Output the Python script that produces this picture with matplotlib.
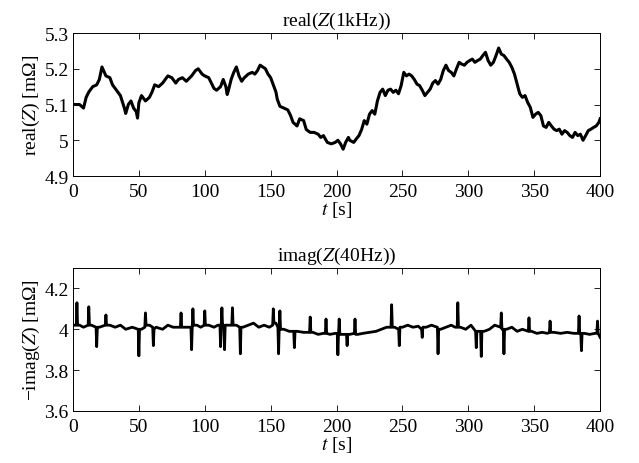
import matplotlib
matplotlib.use("Agg")
import matplotlib.pyplot as plt

# real(Z(1kHz)) centre line
t_real = [0, 5, 8, 10, 12, 15, 18, 20, 22, 25, 28, 30, 33, 36, 39, 40, 42, 44, 46, 48,
          49, 50, 52, 55, 58, 60, 62, 65, 68, 70, 72, 75, 78, 80, 83, 86, 90, 93, 95, 98,
          100, 103, 105, 107, 109, 112, 114, 116, 117, 118, 120, 122, 124, 126, 128, 130, 133, 136, 138, 140,
          142, 144, 146, 148, 150, 152, 154, 155, 157, 160, 163, 165, 167, 170, 172, 175, 177, 180, 183, 186,
          188, 190, 193, 196, 199, 201, 203, 205, 207, 209, 210, 213, 215, 217, 219, 221, 223, 225, 227, 229,
          231, 233, 235, 237, 239, 241, 243, 245, 247, 249, 251, 253, 255, 257, 259, 261, 263, 265, 267, 269,
          271, 273, 275, 277, 279, 281, 283, 285, 287, 289, 291, 293, 295, 297, 299, 301, 303, 305, 307, 309,
          311, 313, 315, 317, 319, 321, 323, 325, 327, 329, 331, 333, 335, 337, 339, 341, 343, 345, 347, 349,
          351, 353, 355, 357, 359, 361, 363, 365, 367, 369, 371, 373, 375, 377, 379, 381, 383, 385, 387, 389,
          391, 393, 395, 397, 399, 400]
real_z = [5.100, 5.100, 5.090, 5.120, 5.135, 5.150, 5.155, 5.170, 5.205, 5.180, 5.175, 5.155, 5.140, 5.125, 5.090, 5.075, 5.100, 5.110, 5.090, 5.080,
          5.062, 5.105, 5.125, 5.110, 5.120, 5.135, 5.155, 5.150, 5.160, 5.170, 5.180, 5.175, 5.160, 5.170, 5.175, 5.165, 5.180, 5.195, 5.200, 5.185,
          5.180, 5.175, 5.160, 5.145, 5.140, 5.150, 5.170, 5.150, 5.128, 5.140, 5.170, 5.190, 5.205, 5.180, 5.165, 5.175, 5.185, 5.190, 5.185, 5.195,
          5.210, 5.205, 5.200, 5.185, 5.175, 5.155, 5.135, 5.115, 5.095, 5.090, 5.085, 5.070, 5.050, 5.040, 5.060, 5.055, 5.030, 5.022, 5.022, 5.017,
          5.008, 5.013, 4.994, 4.990, 4.994, 5.000, 4.990, 4.975, 4.995, 5.008, 5.000, 4.994, 5.004, 5.013, 5.030, 5.055, 5.045, 5.073, 5.083, 5.073,
          5.110, 5.134, 5.143, 5.125, 5.140, 5.143, 5.134, 5.140, 5.130, 5.153, 5.190, 5.180, 5.185, 5.180, 5.170, 5.157, 5.153, 5.140, 5.125, 5.134,
          5.143, 5.160, 5.167, 5.157, 5.170, 5.195, 5.210, 5.195, 5.190, 5.180, 5.200, 5.218, 5.213, 5.210, 5.218, 5.223, 5.227, 5.218, 5.223, 5.227,
          5.237, 5.246, 5.223, 5.210, 5.218, 5.237, 5.258, 5.241, 5.237, 5.227, 5.218, 5.204, 5.185, 5.157, 5.130, 5.120, 5.125, 5.106, 5.092, 5.064,
          5.073, 5.078, 5.069, 5.040, 5.036, 5.050, 5.040, 5.031, 5.027, 5.031, 5.017, 5.027, 5.022, 5.013, 5.008, 5.022, 5.013, 5.017, 5.000, 5.013,
          5.027, 5.031, 5.036, 5.040, 5.050, 5.060]

# -imag(Z(40Hz)), single-sample spikes with the level either side
t_imag = [0, 2.5, 3, 3.5, 5, 8, 11.5, 12, 12.5, 14, 17.5, 18, 18.5, 20, 24.5, 25, 25.5, 28, 32, 36,
          40, 45, 49.5, 50, 50.5, 52, 54.5, 55, 55.5, 58, 60.5, 61, 61.5, 63, 68, 72, 76, 81.5, 82, 82.5,
          85, 89.5, 90, 90.5, 91, 91.5, 94, 97, 99.5, 100, 100.5, 103, 107, 110, 111.5, 112, 112.5, 113, 113.5, 114.5,
          115, 115.5, 117, 120.5, 121, 121.5, 124, 126.5, 127, 127.5, 129, 133, 137, 141, 145, 149, 151.5, 152, 152.5, 154,
          155.5, 156, 156.5, 157, 157.5, 160, 164, 167.5, 168, 168.5, 170, 175, 179.5, 180, 180.5, 182, 186, 190, 191.5, 192,
          192.5, 195, 199, 200.5, 201, 201.5, 202, 202.5, 205, 207.5, 208, 208.5, 210, 213.5, 214, 214.5, 216, 220, 225, 230,
          234, 238, 241.3, 241.8, 242.3, 244, 247.1, 247.6, 248.1, 250, 254, 258, 262, 264.5, 265, 265.5, 268, 272, 276.5, 277,
          277.5, 279, 283, 287, 290, 291.5, 292, 292.5, 294, 298, 302, 305.5, 306, 306.5, 308, 309.3, 309.8, 310.3, 312, 316,
          320, 324.5, 325, 325.5, 326.5, 327, 327.5, 329, 333, 337, 341, 345.5, 346, 346.5, 348, 352, 356, 360, 361.5, 362,
          362.5, 365, 370, 375, 380, 383.5, 384, 384.5, 385.3, 385.8, 386.3, 388, 392, 396, 397.5, 398, 398.5, 400]
imag_z = [4.02, 4.02, 4.13, 4.02, 4.02, 4.01, 4.02, 4.11, 4.02, 4.02, 4.01, 3.915, 4.01, 4.01, 4.02, 4.07, 4.02, 4.02, 4.01, 4.02,
          4.00, 4.01, 4.00, 3.87, 4.00, 4.00, 4.01, 4.08, 4.02, 4.02, 4.01, 3.92, 4.00, 4.01, 4.00, 4.02, 4.01, 4.01, 4.08, 4.01,
          4.01, 4.01, 3.90, 4.01, 4.10, 4.02, 4.02, 4.01, 4.02, 4.09, 4.02, 4.02, 4.01, 4.02, 4.02, 3.915, 4.02, 4.105, 4.02, 4.02,
          3.90, 4.02, 4.02, 4.02, 4.105, 4.02, 4.02, 4.01, 3.88, 4.01, 4.01, 4.02, 4.03, 4.01, 4.02, 4.01, 4.02, 4.10, 4.03, 4.03,
          4.01, 3.88, 4.01, 4.09, 4.00, 4.00, 3.99, 3.99, 3.91, 3.99, 3.99, 3.985, 3.985, 4.06, 3.985, 3.985, 3.975, 3.98, 3.98, 4.05,
          3.98, 3.975, 3.98, 3.98, 3.875, 3.98, 4.05, 3.975, 3.975, 3.975, 3.92, 3.975, 3.975, 3.98, 4.05, 3.975, 3.975, 3.98, 3.985, 3.99,
          4.00, 4.01, 4.01, 4.12, 4.01, 4.01, 4.00, 3.92, 4.01, 4.01, 4.02, 4.01, 4.015, 4.00, 3.96, 4.01, 4.01, 4.02, 4.01, 3.88,
          4.00, 4.00, 4.01, 4.02, 4.01, 4.01, 4.13, 4.01, 4.01, 4.00, 4.02, 3.99, 3.91, 3.99, 3.99, 3.99, 3.867, 3.99, 3.99, 4.00,
          4.02, 4.01, 4.08, 4.00, 4.00, 3.88, 4.00, 4.00, 4.01, 3.99, 4.00, 3.99, 4.056, 3.99, 3.99, 3.98, 3.985, 3.98, 3.985, 4.04,
          3.985, 3.985, 3.98, 3.985, 3.98, 3.98, 4.065, 3.98, 3.98, 3.895, 3.98, 3.98, 3.975, 3.98, 3.98, 4.04, 3.98, 3.96]

x_ticks = [0, 50, 100, 150, 200, 250, 300, 350, 400]
real_ticks = [4.9, 5.0, 5.1, 5.2, 5.3]
real_labels = ['4.9', '5', '5.1', '5.2', '5.3']
imag_ticks = [3.6, 3.8, 4.0, 4.2]
imag_labels = ['3.6', '3.8', '4', '4.2']

plt.rcParams['font.family'] = ['Liberation Serif', 'DejaVu Serif']
plt.rcParams['mathtext.fontset'] = 'stix'
plt.rcParams['font.size'] = 14


def style(ax):
    ax.tick_params(direction='in', top=True, right=True, length=4, width=0.6)
    ax.tick_params(axis='x', pad=5)
    ax.tick_params(axis='y', pad=3)
    for s in ax.spines.values():
        s.set_linewidth(0.7)
    ax.set_xlim(0, 400)
    ax.set_xticks(x_ticks)
    ax.set_xlabel(r'$t$ [s]', labelpad=-1)


fig = plt.figure(figsize=(6.39, 4.64), dpi=100)

ax1 = fig.add_axes([0.1142, 0.6185, 0.8250, 0.3082])
ax1.plot(t_real, real_z, color='black', lw=2.2)
style(ax1)
ax1.set_ylim(4.9, 5.3)
ax1.set_yticks(real_ticks)
ax1.set_yticklabels(real_labels)
ax1.set_ylabel(r'real($Z$) [mΩ]', labelpad=2)
ax1.set_title(r'real($Z$(1kHz))', fontsize=14, pad=6)

ax2 = fig.add_axes([0.1142, 0.1121, 0.8250, 0.3082])
ax2.plot(t_imag, imag_z, color='black', lw=2.0)
style(ax2)
ax2.set_ylim(3.6, 4.3)
ax2.set_yticks(imag_ticks)
ax2.set_yticklabels(imag_labels)
ax2.set_ylabel(r'−imag($Z$) [mΩ]', labelpad=2)
ax2.set_title(r'imag($Z$(40Hz))', fontsize=14, pad=6)

fig.savefig('out.png', dpi=100)
